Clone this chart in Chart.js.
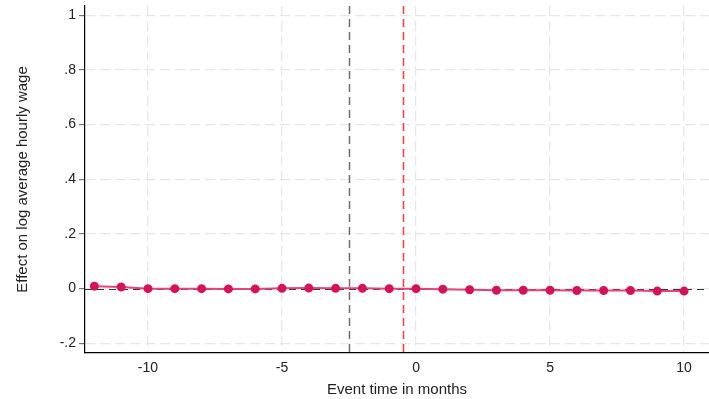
<!DOCTYPE html>
<html>
<head>
<meta charset="utf-8">
<script src="https://cdn.jsdelivr.net/npm/chart.js@4"></script>
<style>
    html, body { margin: 0; padding: 0; background: #fff; }
</style>
</head>
<body>
<canvas id="c" width="709" height="399"></canvas>
<script>
const eventTime = [-12, -11, -10, -9, -8, -7, -6, -5, -4, -3, -2, -1, 0, 1, 2, 3, 4, 5, 6, 7, 8, 9, 10];
const effect = [0.009, 0.006, 0.0, 0.0, 0.0, -0.001, -0.001, 0.001, 0.002, 0.001, 0.001, 0.0, 0.0,
    -0.002, -0.004, -0.006, -0.006, -0.006, -0.007, -0.007, -0.007, -0.009, -0.009];
const xTicks = [-10, -5, 0, 5, 10];
const yTicks = [-0.2, 0, 0.2, 0.4, 0.6, 0.8, 1];
const refLinesX = [
    { value: -2.5, color: '#6e6e6e' },
    { value: -0.5, color: '#ff3b3b' },
];

const fmtY = (v) => {
    if (Math.abs(v) < 1e-9) return '0';
    if (Math.abs(v - 1) < 1e-9) return '1';
    return v.toFixed(1).replace('0.', '.');
};

const refLines = {
    id: 'refLines',
    beforeDatasetsDraw(chart) {
        const { ctx, chartArea: a, scales } = chart;
        ctx.save();
        ctx.lineWidth = 1.5;
        refLinesX.forEach((r) => {
            const px = Math.round(scales.x.getPixelForValue(r.value)) + 0.5;
            ctx.strokeStyle = r.color;
            ctx.setLineDash([8, 5]);
            ctx.beginPath();
            ctx.moveTo(px, a.top);
            ctx.lineTo(px, a.bottom);
            ctx.stroke();
        });
        const py = Math.round(scales.y.getPixelForValue(0)) + 0.5;
        ctx.strokeStyle = '#333';
        ctx.lineWidth = 1.2;
        ctx.setLineDash([7, 5]);
        ctx.beginPath();
        ctx.moveTo(a.left, py);
        ctx.lineTo(a.right, py);
        ctx.stroke();
        ctx.restore();
    },
};

const family = "'Liberation Sans', Arial, sans-serif";
const tickFont = { family, size: 14 };
const titleFont = { family, size: 15 };

new Chart(document.getElementById('c'), {
    type: 'line',
    data: {
        datasets: [
            {
                data: eventTime.map((x, i) => ({ x, y: effect[i] })),
                borderColor: '#e0457c',
                borderWidth: 2,
                backgroundColor: '#d6125a',
                pointBackgroundColor: '#d6125a',
                pointBorderColor: '#d6125a',
                pointRadius: 3.5,
                tension: 0,
                clip: false,
            },
        ],
    },
    options: {
        responsive: false,
        animation: false,
        layout: { autoPadding: false, padding: { top: 6, right: 0, left: 0, bottom: 0 } },
        plugins: { legend: { display: false }, tooltip: { enabled: false } },
        scales: {
            x: {
                type: 'linear',
                min: -12.35,
                max: 10.93,
                afterBuildTicks: (s) => { s.ticks = xTicks.map((v) => ({ value: v })); },
                afterFit: (s) => {
                    s.height = 46;
                    s.paddingLeft = 0;
                    s.paddingRight = 0;
                },
                grid: {
                    color: '#e6e6e6',
                    lineWidth: 1.2,
                    drawTicks: false,
                },
                border: { color: '#000', width: 1.2, dash: [10, 5] },
                ticks: { color: '#222', font: tickFont, padding: 7, autoSkip: false, maxRotation: 0 },
                title: {
                    display: true,
                    text: 'Event time in months',
                    color: '#222',
                    font: titleFont,
                    padding: { top: 2, bottom: 0 },
                },
            },
            y: {
                min: -0.2355,
                max: 1.034,
                afterBuildTicks: (s) => { s.ticks = yTicks.map((v) => ({ value: v })); },
                afterFit: (s) => {
                    s.width = 85;
                    s.paddingTop = 0;
                    s.paddingBottom = 0;
                },
                grid: {
                    color: '#e6e6e6',
                    lineWidth: 1.2,
                    tickColor: '#777',
                    tickLength: 6,
                },
                border: { color: '#000', width: 1.2, dash: [10, 5] },
                ticks: { color: '#222', font: tickFont, padding: 3, autoSkip: false, callback: (v) => fmtY(v) },
                title: {
                    display: true,
                    text: 'Effect on log average hourly wage',
                    color: '#222',
                    font: titleFont,
                    padding: { top: 14, bottom: 8 },
                },
            },
        },
    },
    plugins: [refLines],
});
</script>
</body>
</html>
